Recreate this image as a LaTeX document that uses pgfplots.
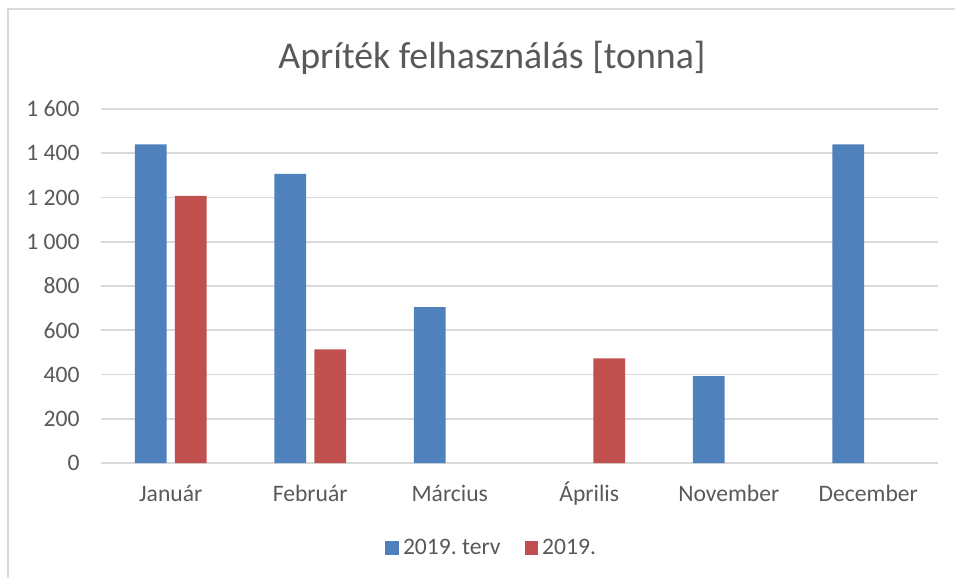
\documentclass[border=0pt]{standalone}
\usepackage{fontspec}
\setmainfont{Carlito}
\usepackage{pgfplots}
\pgfplotsset{compat=1.18}
\definecolor{terv}{HTML}{4F81BD}
\definecolor{teny}{HTML}{C0504D}
\definecolor{gridgray}{HTML}{D9D9D9}
\definecolor{txt}{HTML}{595959}
\frenchspacing

\begin{document}
\begin{tikzpicture}
  % frame and page size (1 px of the reference = 0.5bp)
  \useasboundingbox (-50.5bp,-57.5bp) rectangle (427bp,231.5bp);
  \draw[gridgray, line width=1bp] (-46.5bp,-60bp) -- (-46.5bp,227bp) -- (430bp,227bp);
  \begin{axis}[
      scale only axis, width=418.5bp, height=177bp,
      xmin=-0.5, xmax=5.5, ymin=0, ymax=1600,
      xtick={0,...,5},
      xticklabels={Január, Február, Március, Április, November, December},
      ytick={0,200,...,1600},
      scaled y ticks=false,
      /pgf/number format/1000 sep={\ },
      /pgf/number format/assume math mode=true,
      axis line style={draw=none},
      major tick length=0pt,
      ymajorgrids, grid style={gridgray, line width=0.8bp},
      tick label style={text=txt, font=\fontsize{11.8bp}{14bp}\selectfont},
      yticklabel style={anchor=east, inner sep=0pt, xshift=-10.5bp},
      xticklabel style={anchor=base, inner sep=0pt, yshift=-19.3bp},
      legend style={at={(0.468,-0.24)}, anchor=center, draw=none,
        legend columns=2, text=txt, font=\fontsize{11.8bp}{14bp}\selectfont,
        /tikz/every even column/.append style={column sep=10bp}},
      legend image code/.code={\fill[#1] (0bp,-3.3bp) rectangle (6.8bp,3.4bp);},
      clip=false,
    ]
    \addplot[ybar, fill=terv, draw=none, bar width=15.8bp, bar shift=-10bp]
      coordinates {(0,1440) (1,1307) (2,704) (4,393) (5,1440)};
    \addplot[ybar, fill=teny, draw=none, bar width=15.8bp, bar shift=10bp]
      coordinates {(0,1207) (1,513) (3,473)};
    \legend{2019. terv, 2019.}
  \end{axis}
  \node[anchor=base, text=txt, font=\fontsize{18.9bp}{22bp}\selectfont]
    at (195.5bp,197bp) {Apríték felhasználás [tonna]};
\end{tikzpicture}
\end{document}
